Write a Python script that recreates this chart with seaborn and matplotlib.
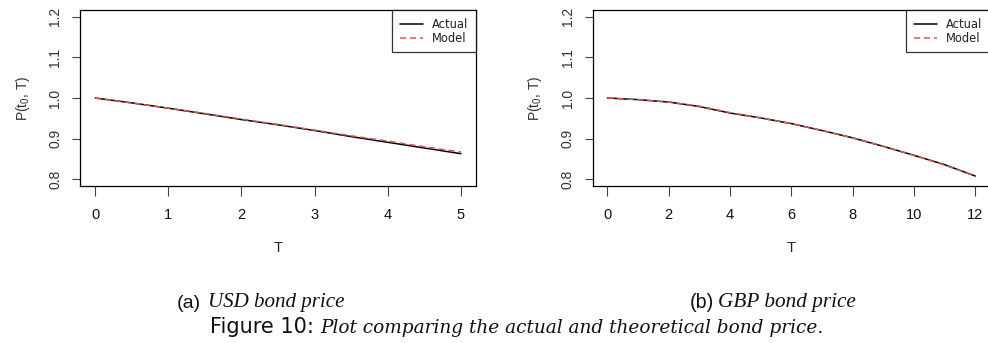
import numpy as np
import pandas as pd
import matplotlib
matplotlib.use("Agg")
import matplotlib.pyplot as plt
import seaborn as sns

# ---------------- data ----------------
usd_T = [0.0, 0.5, 1.0, 1.5, 2.0, 2.5, 3.0, 3.5, 4.0, 4.5, 5.0]
usd_actual = [1.000, 0.988, 0.975, 0.961, 0.947, 0.934, 0.920, 0.905, 0.891, 0.877, 0.863]
usd_model = [1.000, 0.988, 0.975, 0.962, 0.948, 0.935, 0.921, 0.907, 0.894, 0.880, 0.867]

gbp_T = [0, 1, 2, 3, 4, 5, 6, 7, 8, 9, 10, 11, 12]
gbp_actual = [1.000, 0.996, 0.990, 0.979, 0.963, 0.951, 0.937, 0.920, 0.902, 0.881, 0.859, 0.836, 0.808]
gbp_model = [1.000, 0.996, 0.990, 0.980, 0.964, 0.951, 0.937, 0.920, 0.902, 0.881, 0.859, 0.835, 0.808]

usd_xticks = [0, 1, 2, 3, 4, 5]
gbp_xticks = [0, 2, 4, 6, 8, 10, 12]
yticks = [0.8, 0.9, 1.0, 1.1, 1.2]
ytick_labels = ["0.8", "0.9", "1.0", "1.1", "1.2"]
legend_labels = ["Actual", "Model"]
sub_labels = [("(a)", "USD bond price"), ("(b)", "GBP bond price")]
fig_caption = ("Figure 10:", "Plot comparing the actual and theoretical bond price.")

# ---------------- style ----------------
sns.set_theme(style="ticks")
plt.rcParams["font.family"] = ["Liberation Sans", "DejaVu Sans"]
plt.rcParams["mathtext.fontset"] = "custom"
plt.rcParams["mathtext.rm"] = "Liberation Sans"
plt.rcParams["mathtext.it"] = "Liberation Sans:italic"

W, H = 988, 343
fig = plt.figure(figsize=(W / 100, H / 100), dpi=100)
fig.patch.set_facecolor("white")

MODEL_COLOR = "#cd5c5c"


def px_axes(x0, x1, ytop, ybot):
    return fig.add_axes([x0 / W, 1 - ybot / H, (x1 - x0) / W, (ybot - ytop) / H])


def style_axes(ax, T, xticks):
    lo, hi = min(T), max(T)
    pad = (hi - lo) * 0.04
    ax.set_xlim(lo - pad, hi + pad)
    ax.set_ylim(0.8 - 0.016, 1.2 + 0.016)
    ax.set_xticks(xticks)
    ax.set_xticklabels([str(v) for v in xticks])
    ax.set_yticks(yticks)
    ax.set_yticklabels(ytick_labels)
    for s in ax.spines.values():
        s.set_visible(True)
        s.set_color("black")
        s.set_linewidth(0.9)
    ax.tick_params(axis="x", length=7, width=0.8, color="#444444", pad=9,
                   labelsize=10.5, labelcolor="#111111")
    ax.tick_params(axis="y", length=6, width=0.8, color="#444444", pad=7,
                   labelsize=10, labelcolor="#333333")
    for lbl in ax.get_yticklabels():
        lbl.set_rotation(90)
        lbl.set_va("center")
    ax.set_xlabel("T", fontsize=10.5, color="#222222", labelpad=14)
    ax.set_ylabel(r"P(t$_0$, T)", fontsize=10, color="#333333", labelpad=12)
    ax.grid(False)
    ax.set_facecolor("white")


def draw_panel(ax, T, actual, model, xticks):
    df = pd.DataFrame({"T": list(T) * 2,
                       "P": list(actual) + list(model),
                       "series": [legend_labels[0]] * len(T) + [legend_labels[1]] * len(T)})
    sns.lineplot(data=df[df.series == legend_labels[0]], x="T", y="P", ax=ax,
                 color="black", linewidth=1.1, label=legend_labels[0])
    sns.lineplot(data=df[df.series == legend_labels[1]], x="T", y="P", ax=ax,
                 color=MODEL_COLOR, linewidth=1.1, linestyle=(0, (4, 2.5)),
                 label=legend_labels[1])
    style_axes(ax, T, xticks)
    leg = ax.legend(loc="upper right", borderaxespad=0,
                    prop=dict(family=["DejaVu Sans"], size=8.3),
                    frameon=True, fancybox=False, handlelength=2.0,
                    handletextpad=0.8, borderpad=0.65, labelspacing=0.1)
    leg.get_frame().set_edgecolor("black")
    leg.get_frame().set_linewidth(0.9)
    for t in leg.get_texts():
        t.set_color("#222222")


ax1 = px_axes(80.4, 475.6, 10.2, 185.8)
draw_panel(ax1, usd_T, usd_actual, usd_model, usd_xticks)

ax2 = px_axes(592.7, 990, 10.2, 185.8)
draw_panel(ax2, gbp_T, gbp_actual, gbp_model, gbp_xticks)

# ---------------- captions ----------------
renderer = fig.canvas.get_renderer()


def fitted_text(x0, x1, y, text, **kw):
    """Place left-aligned text at baseline y whose width spans x0..x1 (pixels)."""
    t = fig.text(x0 / W, 1 - y / H, text, ha="left", va="baseline", fontsize=10, **kw)
    w = t.get_window_extent(renderer).width
    t.set_fontsize(10 * (x1 - x0) / w)
    return t


SANS = ["Liberation Sans", "DejaVu Sans"]
SANS_WIDE = ["DejaVu Sans"]
SERIF = ["Liberation Serif", "DejaVu Serif"]
SERIF_WIDE = ["DejaVu Serif"]
INK = "#111111"

fitted_text(177, 201, 307.5, sub_labels[0][0], family=SANS, color=INK)
fitted_text(208, 345, 307.5, sub_labels[0][1], family=SERIF, style="italic", color=INK)
fitted_text(690, 714, 307.5, sub_labels[1][0], family=SANS, color=INK)
fitted_text(718, 856, 307.5, sub_labels[1][1], family=SERIF, style="italic", color=INK)
fitted_text(210, 314, 333, fig_caption[0], family=SANS_WIDE, color=INK)
fitted_text(320, 824, 333, fig_caption[1], family=SERIF_WIDE, style="italic", color=INK)

fig.savefig("out.png", dpi=100, facecolor="white")
